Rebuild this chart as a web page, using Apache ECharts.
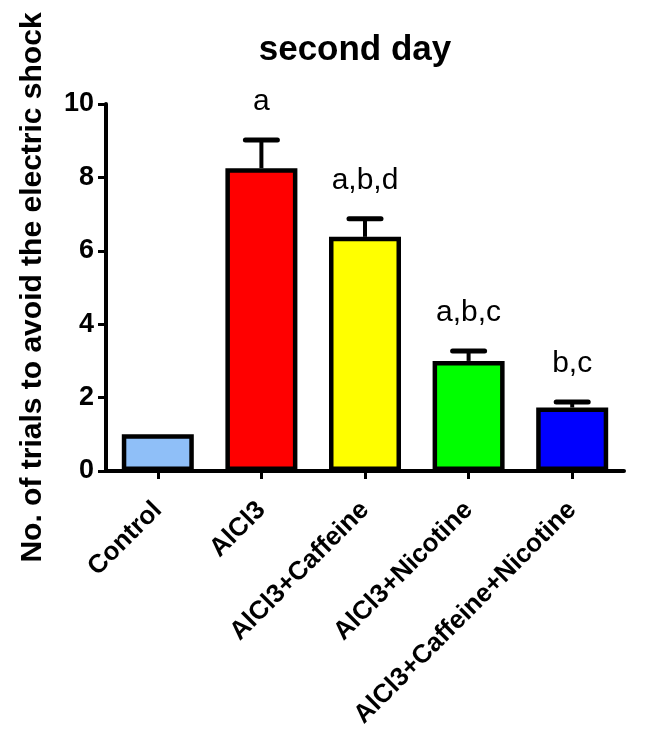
<!DOCTYPE html>
<html>
<head>
<meta charset="utf-8">
<script src="https://cdn.jsdelivr.net/npm/echarts@6/dist/echarts.min.js"></script>
<style>
html,body{margin:0;padding:0;background:#fff;}
#chart{width:658px;height:737px;}
</style>
</head>
<body>
<div id="chart"></div>
<script>
// ---- data ----
const categories = ['Control', 'AlCl3', 'AlCl3+Caffeine', 'AlCl3+Nicotine', 'AlCl3+Caffeine+Nicotine'];
const means = [1.0, 8.25, 6.38, 3.0, 1.73];
const sems = [0, 0.77, 0.49, 0.27, 0.15];
const letters = ['', 'a', 'a,b,d', 'a,b,c', 'b,c'];
const yTicks = [0, 2, 4, 6, 8, 10];
const titleText = 'second day';
const yName = 'No. of trials to avoid the electric shock';

// ---- styles ----
const barColors = ['#8FBFF8', '#FF0000', '#FFFF00', '#00FF00', '#0000FF'];
const FONT = 'Liberation Sans, Arial, Helvetica, sans-serif';

const chart = echarts.init(document.getElementById('chart'), null, {renderer: 'canvas'});

const errData = categories.map((c, i) => [i, means[i], sems[i]]);

const option = {
  animation: false,
  backgroundColor: '#fff',
  title: {
    text: titleText,
    left: 350,
    top: 28,
    textAlign: 'center',
    textStyle: {fontFamily: FONT, fontWeight: 'bold', fontSize: 35, color: '#000'}
  },
  grid: {left: 106, right: 34, top: 104, bottom: 266, containLabel: false},
  xAxis: {
    type: 'category',
    data: categories,
    boundaryGap: true,
    axisLine: {show: true, lineStyle: {color: '#000', width: 4}},
    axisTick: {show: true, alignWithLabel: true, length: 8, lineStyle: {color: '#000', width: 3}},
    axisLabel: {
      interval: 0, rotate: 45, margin: 35, color: '#000',
      fontFamily: FONT, fontWeight: 'bold', fontSize: 26
    },
    splitLine: {show: false}
  },
  yAxis: {
    type: 'value',
    min: yTicks[0],
    max: yTicks[yTicks.length - 1],
    interval: yTicks[1] - yTicks[0],
    name: yName,
    nameLocation: 'middle',
    nameRotate: 90,
    nameGap: 58,
    nameTextStyle: {fontFamily: FONT, fontWeight: 'bold', fontSize: 30, color: '#000'},
    axisLine: {show: true, lineStyle: {color: '#000', width: 4}},
    axisTick: {show: true, length: 8, lineStyle: {color: '#000', width: 3}},
    axisLabel: {color: '#000', fontFamily: FONT, fontWeight: 'bold', fontSize: 27, margin: 12},
    splitLine: {show: false}
  },
  series: [
    {
      type: 'bar',
      data: means.map((v, i) => ({value: v, itemStyle: {color: barColors[i]}})),
      barWidth: 72,
      itemStyle: {borderColor: '#000', borderWidth: 4.5},
      z: 2
    },
    {
      type: 'custom',
      data: errData,
      z: 3,
      renderItem: function (params, api) {
        const idx = api.value(0);
        const m = api.value(1);
        const e = api.value(2);
        const lab = letters[idx];
        const base = api.coord([idx, m]);
        const top = api.coord([idx, m + e]);
        const children = [];
        if (e > 0) {
          children.push({
            type: 'line',
            shape: {x1: base[0], y1: base[1], x2: top[0], y2: top[1]},
            style: {stroke: '#000', lineWidth: 4}
          });
          children.push({
            type: 'line',
            shape: {x1: top[0] - 16, y1: top[1], x2: top[0] + 16, y2: top[1]},
            style: {stroke: '#000', lineWidth: 5, lineCap: 'round'}
          });
        }
        if (lab) {
          children.push({
            type: 'text',
            style: {
              x: top[0], y: top[1] - 38,
              text: lab,
              textAlign: 'center', textVerticalAlign: 'middle',
              fontFamily: FONT, fontSize: 30, fill: '#000'
            }
          });
        }
        return {type: 'group', children: children};
      }
    }
  ]
};
chart.setOption(option);
</script>
</body>
</html>
